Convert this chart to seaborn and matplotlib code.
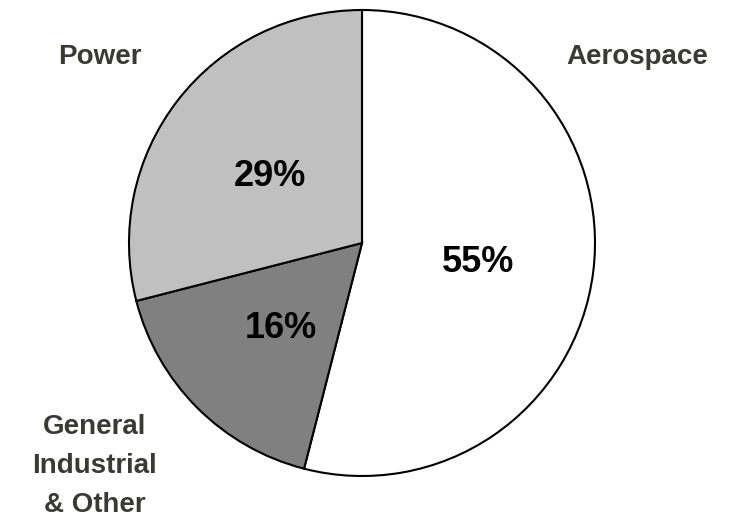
import matplotlib
matplotlib.use("Agg")
import matplotlib.pyplot as plt
import seaborn as sns

# Data
segments = ["Aerospace", "General\nIndustrial\n& Other", "Power"]
shares = [54, 17, 29]            # wedge sizes as drawn
pct_labels = ["55%", "16%", "29%"]  # printed labels
colors = ["#FFFFFF", "#808080", "#C0C0C0"]

sns.set_theme(style="white")
plt.rcParams['font.family'] = ['Liberation Sans', 'DejaVu Sans']

W, H = 751, 519
fig = plt.figure(figsize=(W / 100, H / 100), dpi=100)
ax = fig.add_axes([0, 0, 1, 1])

cx, cy, r = 362, H - 243, 233
ax.pie(shares, colors=colors, startangle=90, counterclock=False,
       center=(cx, cy), radius=r, frame=True,
       wedgeprops=dict(edgecolor="black", linewidth=1.5))
ax.set_xlim(0, W)
ax.set_ylim(0, H)
ax.set_aspect("equal")
ax.axis("off")

# Percentage labels (pixel positions, top-origin)
pct_pos = [(478, 263), (281, 328), (270, 176)]
for txt, (x, y) in zip(pct_labels, pct_pos):
    ax.text(x, H - y, txt, ha="center", va="center", fontsize=26,
            fontweight="bold", color="black")

# Category labels
lab_pos = [(637, 57), (95, 466), (100, 57)]
for txt, (x, y) in zip(segments, lab_pos):
    ax.text(x, H - y, txt, ha="center", va="center", fontsize=20,
            fontweight="bold", color="#3A3A35", linespacing=1.66)

fig.savefig("out.png", dpi=100, facecolor="white")
